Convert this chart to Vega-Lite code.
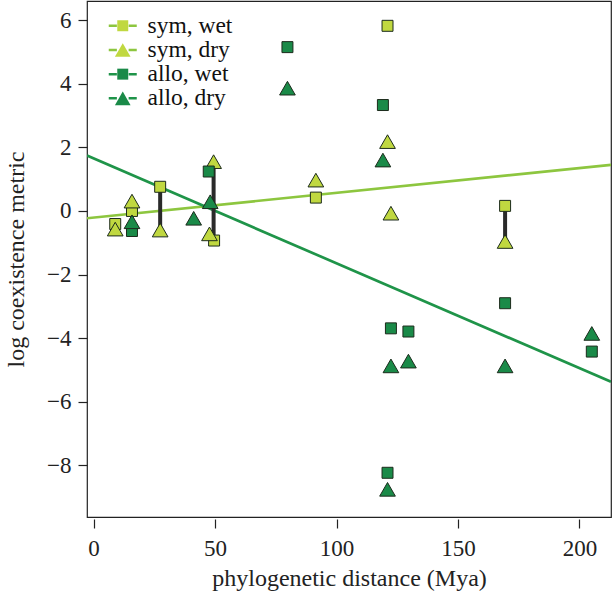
{
  "$schema": "https://vega.github.io/schema/vega-lite/v6.json",
  "width": 524,
  "height": 516,
  "autosize": {"type": "none"},
  "padding": {"left": 87, "top": 1, "right": 1, "bottom": 80},
  "background": "white",
  "config": {
    "view": {"stroke": "#222", "strokeWidth": 1.2},
    "font": "Liberation Serif",
    "axis": {
      "grid": false, "domain": false, "tickColor": "#222", "tickWidth": 1.2, "tickSize": 9,
      "labelFont": "Liberation Serif", "labelFontSize": 23, "labelColor": "#222",
      "titleFont": "Liberation Serif", "titleFontSize": 24, "titleFontWeight": "normal", "titleColor": "#222"
    },
    "legend": {
      "labelFont": "Liberation Serif", "labelFontSize": 23.5, "labelColor": "#111", "padding": 0
    }
  },
  "datasets": {
    "points": [
      {"group": "sym, wet", "x": 8.9, "y": -0.41},
      {"group": "sym, wet", "x": 15.8, "y": 0.0},
      {"group": "sym, wet", "x": 27.4, "y": 0.76},
      {"group": "sym, wet", "x": 49.6, "y": -0.93},
      {"group": "sym, wet", "x": 91.5, "y": 0.42},
      {"group": "sym, wet", "x": 121.0, "y": 5.82},
      {"group": "sym, wet", "x": 169.4, "y": 0.16},
      {"group": "sym, dry", "x": 8.9, "y": -0.57},
      {"group": "sym, dry", "x": 15.8, "y": 0.31},
      {"group": "sym, dry", "x": 27.4, "y": -0.6},
      {"group": "sym, dry", "x": 47.7, "y": -0.72},
      {"group": "sym, dry", "x": 49.4, "y": 1.55},
      {"group": "sym, dry", "x": 91.5, "y": 0.97},
      {"group": "sym, dry", "x": 121.0, "y": 2.18},
      {"group": "sym, dry", "x": 122.4, "y": -0.07},
      {"group": "sym, dry", "x": 169.4, "y": -0.96},
      {"group": "allo, wet", "x": 15.8, "y": -0.63},
      {"group": "allo, wet", "x": 47.4, "y": 1.24},
      {"group": "allo, wet", "x": 79.8, "y": 5.15},
      {"group": "allo, wet", "x": 119.1, "y": 3.33},
      {"group": "allo, wet", "x": 121.0, "y": -8.23},
      {"group": "allo, wet", "x": 122.4, "y": -3.69},
      {"group": "allo, wet", "x": 129.6, "y": -3.79},
      {"group": "allo, wet", "x": 169.4, "y": -2.9},
      {"group": "allo, wet", "x": 205.1, "y": -4.42},
      {"group": "allo, dry", "x": 15.8, "y": -0.34},
      {"group": "allo, dry", "x": 41.2, "y": -0.23},
      {"group": "allo, dry", "x": 48.0, "y": 0.29},
      {"group": "allo, dry", "x": 79.8, "y": 3.86},
      {"group": "allo, dry", "x": 119.1, "y": 1.6},
      {"group": "allo, dry", "x": 121.0, "y": -8.75},
      {"group": "allo, dry", "x": 122.4, "y": -4.87},
      {"group": "allo, dry", "x": 129.6, "y": -4.72},
      {"group": "allo, dry", "x": 169.4, "y": -4.87},
      {"group": "allo, dry", "x": 205.1, "y": -3.85}
    ],
    "fits": [
      {"fit": "sym", "x": -2.72, "y": -0.23},
      {"fit": "sym", "x": 213, "y": 1.45},
      {"fit": "allo", "x": -2.72, "y": 1.74},
      {"fit": "allo", "x": 213, "y": -5.37}
    ],
    "links": [
      {"x": 27.4, "y": 0.76, "y2": -0.6},
      {"x": 49.4, "y": 1.55, "y2": -0.91},
      {"x": 169.4, "y": 0.16, "y2": -0.96}
    ],
    "keys": [
      {"series": "sym, wet (line)"},
      {"series": "sym, dry (line)"},
      {"series": "allo, wet (line)"},
      {"series": "allo, dry (line)"}
    ]
  },
  "layer": [
    {
      "data": {"name": "fits"},
      "mark": {"type": "line", "strokeWidth": 2.7, "clip": true},
      "encoding": {
        "x": {"field": "x", "type": "quantitative", "scale": {"domain": [-2.72, 213], "nice": false, "zero": false},
              "axis": {"values": [0, 50, 100, 150, 200], "offset": 2, "labelPadding": 9, "title": "phylogenetic distance (Mya)", "titlePadding": 6}},
        "y": {"field": "y", "type": "quantitative", "scale": {"domain": [-9.62, 6.6], "nice": false, "zero": false},
              "axis": {"values": [-8, -6, -4, -2, 0, 2, 4, 6], "labelPadding": 7, "title": "log coexistence metric", "titlePadding": 18}},
        "color": {"field": "fit", "type": "nominal", "scale": {"domain": ["sym", "allo"], "range": ["#8dc63f", "#1f9449"]}, "legend": null}
      }
    },
    {
      "mark": {"type": "rule", "strokeDash": [5, 4], "color": "#333", "strokeWidth": 1.2},
      "encoding": {"y": {"datum": 0, "type": "quantitative"}}
    },
    {
      "data": {"name": "links"},
      "mark": {"type": "rule", "color": "#2a2a2a", "strokeWidth": 4},
      "encoding": {
        "x": {"field": "x", "type": "quantitative"},
        "y": {"field": "y", "type": "quantitative"},
        "y2": {"field": "y2"}
      }
    },
    {
      "data": {"name": "keys"},
      "transform": [{"filter": "datum.series == null"}],
      "mark": {"type": "line", "strokeWidth": 2.5},
      "encoding": {
        "stroke": {
          "field": "series", "type": "nominal",
          "scale": {"domain": ["sym, wet (line)", "sym, dry (line)", "allo, wet (line)", "allo, dry (line)"], "range": ["#8dc63f", "#8dc63f", "#1f9449", "#1f9449"]},
          "legend": {"orient": "none", "legendX": 24, "legendY": 13, "title": null, "symbolType": "M-2,0H-0.84M0.84,0H2", "symbolSize": 196, "symbolStrokeWidth": 2.5, "labelExpr": "' '", "labelOffset": 13, "rowPadding": -0.8}
        }
      }
    },
    {
      "data": {"name": "points"},
      "mark": {"type": "point", "filled": true, "size": 246, "stroke": "#1c2b1c", "strokeWidth": 1, "opacity": 1},
      "encoding": {
        "x": {"field": "x", "type": "quantitative"},
        "y": {"field": "y", "type": "quantitative"},
        "fill": {
          "field": "group", "type": "nominal",
          "scale": {"domain": ["sym, wet", "sym, dry", "allo, wet", "allo, dry"], "range": ["#c0d840", "#c0d840", "#1a8a48", "#1a8a48"]},
          "legend": {"orient": "none", "legendX": 24, "legendY": 13, "title": null, "symbolSize": 246, "symbolStrokeColor": "#1c2b1c", "symbolStrokeWidth": 1, "labelOffset": 13, "rowPadding": -0.8}
        },
        "shape": {
          "field": "group", "type": "nominal",
          "scale": {"domain": ["sym, wet", "sym, dry", "allo, wet", "allo, dry"], "range": ["M-0.7,-0.7H0.7V0.7H-0.7Z", "M0,-0.87L1,0.87H-1Z", "M-0.7,-0.7H0.7V0.7H-0.7Z", "M0,-0.87L1,0.87H-1Z"]},
          "legend": {"orient": "none", "legendX": 24, "legendY": 13, "title": null, "symbolSize": 246, "symbolStrokeColor": "#1c2b1c", "symbolStrokeWidth": 1, "labelOffset": 13, "rowPadding": -0.8}
        }
      }
    }
  ]
}
